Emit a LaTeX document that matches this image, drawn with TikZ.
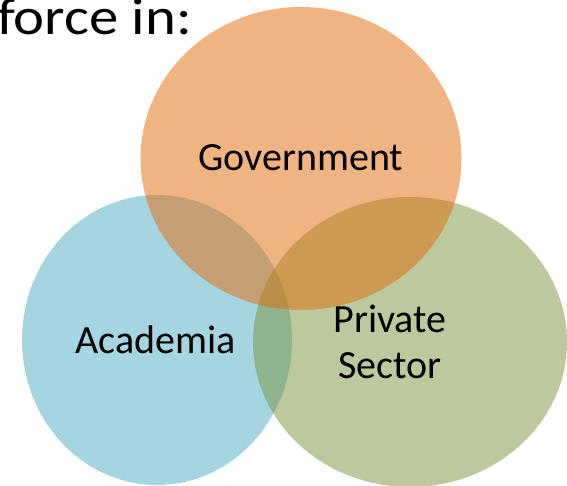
\documentclass[tikz,border=0pt]{standalone}
\usepackage{xcolor}
\usepackage{graphicx}
\usepackage{fontspec}
\setmainfont{Carlito}
\usepackage{tikz}
\usetikzlibrary{shapes.geometric}

\definecolor{govorange}{RGB}{225,105,5}
\definecolor{acadblue}{RGB}{77,171,197}
\definecolor{privgreen}{RGB}{121,147,57}

\begin{document}
\begin{tikzpicture}[x=1pt,y=-1pt,
	blob/.style={ellipse,inner sep=0pt,fill opacity=0.5},
	lbl/.style={anchor=base,font=\fontsize{40}{46}\selectfont}]
	\useasboundingbox (0,0) rectangle (567,485);

	\node[blob,fill=acadblue,minimum width=270pt,minimum height=290pt] (acad) at (157,340) {};
	\node[blob,fill=privgreen,minimum width=314pt,minimum height=290pt] (priv) at (410,342) {};
	\node[blob,fill=govorange,minimum width=321pt,minimum height=303pt] (gov) at (301,158.5) {};

	% heading runs off the top and left edge
	\node[anchor=base west,inner sep=0pt,font=\fontsize{52}{60}\selectfont] (title) at (-3,34) {\scalebox{1.13}[1]{force in:}};

	\node[lbl] (govtext) at (301,170) {Government};
	\node[lbl] (acadtext) at (155.5,353) {Academia};
	\node[lbl] (privtext1) at (390,332) {Private};
	\node[lbl] (privtext2) at (390,378) {Sector};

\end{tikzpicture}
\end{document}
